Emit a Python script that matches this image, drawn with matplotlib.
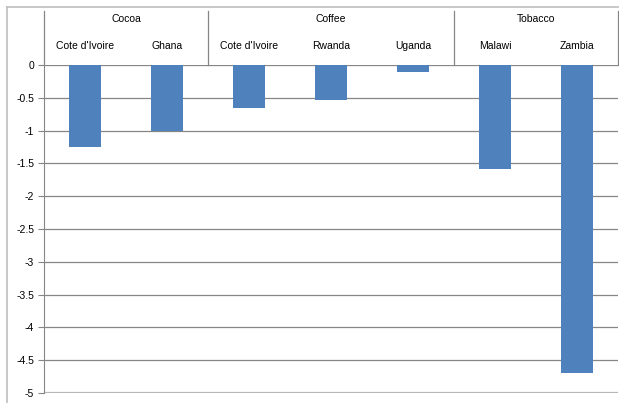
import matplotlib
matplotlib.use("Agg")
import matplotlib.pyplot as plt
from matplotlib.lines import Line2D

plt.rcParams['font.family'] = ['Liberation Sans', 'DejaVu Sans']

groups = ["Cocoa", "Coffee", "Tobacco"]
group_sizes = [2, 3, 2]
countries = ["Cote d'Ivoire", "Ghana", "Cote d'Ivoire", "Rwanda", "Uganda", "Malawi", "Zambia"]
values = [-1.25, -1.0, -0.65, -0.53, -0.1, -1.58, -4.7]
yticks = [0, -0.5, -1, -1.5, -2, -2.5, -3, -3.5, -4, -4.5, -5]

W, H = 619, 403
fig = plt.figure(figsize=(W / 100, H / 100), dpi=100)
x0, x1, y0, y1 = 44, 618, 65, 393
ax = fig.add_axes([x0 / W, 1 - y1 / H, (x1 - x0) / W, (y1 - y0) / H])

n = len(countries)
xs = list(range(n))
ax.bar(xs, values, width=0.4, color="#4F81BD", zorder=3)
ax.set_xlim(-0.5, n - 0.5)
ax.set_ylim(-5, 0)

ax.set_yticks(yticks)
ax.set_yticklabels([f"{t:g}" for t in yticks], fontsize=7.5)
ax.tick_params(axis='y', length=4, color="#868686", pad=3)
ax.tick_params(axis='x', bottom=False, labelbottom=False)
ax.grid(axis='y', color="#868686", linewidth=0.9, zorder=0)

for side in ["top", "right", "bottom"]:
    ax.spines[side].set_visible(False)
ax.spines["left"].set_color("#868686")
ax.axhline(-5, color="#bfbfbf", linewidth=1.6, zorder=1)
ax.axhline(0, color="#a6a6a6", linewidth=1.4, zorder=1)

# two-level category header above the plot
trans = ax.get_xaxis_transform()
top = (y1 - 11) / (y1 - y0)
edges = [-0.5]
for s in group_sizes:
    edges.append(edges[-1] + s)
for e in edges:
    ax.add_line(Line2D([e, e], [1, top], transform=trans, color="#868686",
                       linewidth=0.9, clip_on=False))
for g, a, b in zip(groups, edges[:-1], edges[1:]):
    ax.text((a + b) / 2, (y1 - 19) / (y1 - y0), g, transform=trans,
            ha='center', va='center', fontsize=7.5)
for x, c in zip(xs, countries):
    ax.text(x, (y1 - 46) / (y1 - y0), c, transform=trans,
            ha='center', va='center', fontsize=7.5)

# chart frame (cropped at right and bottom)
fig.add_artist(Line2D([7 / W, 1], [1 - 7 / H] * 2, transform=fig.transFigure,
                      color="#bfbfbf", linewidth=1.2))
fig.add_artist(Line2D([7 / W] * 2, [0, 1 - 7 / H], transform=fig.transFigure,
                      color="#bfbfbf", linewidth=1.2))

fig.savefig("out.png", dpi=100)
